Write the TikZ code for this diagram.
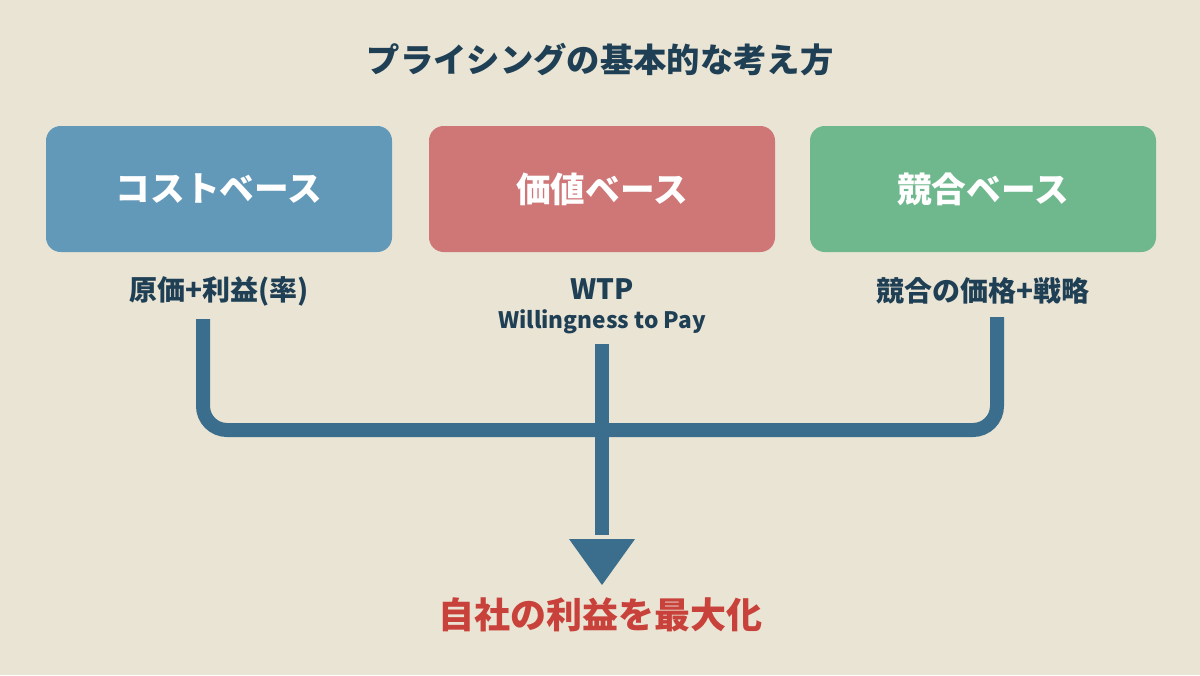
\documentclass[tikz,border=0pt]{standalone}
\usepackage{fontspec}
\setmainfont{Noto Sans CJK JP}
\usetikzlibrary{calc}
\definecolor{bg}{HTML}{EAE4D4}
\definecolor{ink}{HTML}{1F3F55}
\definecolor{bluebox}{HTML}{6399B8}
\definecolor{redbox}{HTML}{CF7677}
\definecolor{greenbox}{HTML}{6FB88D}
\definecolor{flow}{HTML}{3B6E8C}
\definecolor{goal}{HTML}{C8413A}
\begin{document}
\begin{tikzpicture}[x=0.75pt,y=-0.75pt,
  card/.style={rounded corners=11pt,minimum width=259.5pt,minimum height=94.5pt,inner sep=0pt,text=white,font=\fontsize{26}{30}\selectfont\bfseries},
  lab/.style={text=ink,font=\fontsize{21}{25}\selectfont\bfseries},
  pipe/.style={draw=flow,line width=10.5pt,rounded corners=18pt}]
\fill[bg] (0,0) rectangle (1200,675);
\useasboundingbox (0,0) rectangle (1200,675);
\node[text=ink,font=\fontsize{25}{30}\selectfont\bfseries] (title) at (600,60) {プライシングの基本的な考え方};
\node[card,fill=bluebox] (b1) at (219,189) {コストベース};
\node[card,fill=redbox] (b2) at (602,189) {価値ベース};
\node[card,fill=greenbox] (b3) at (983,189) {競合ベース};
\node[lab] (l1) at (219,291) {原価+利益(率)};
\node[lab] (l2) at (602,289) {WTP};
\node[text=ink,font=\fontsize{17}{20}\selectfont\bfseries] (l2b) at (602,322) {Willingness to Pay};
\node[lab] (l3) at (983,291) {競合の価格+戦略};
\coordinate (s1) at (203,319);
\coordinate (s2) at (602,344);
\coordinate (s3) at (997,317);
\coordinate (j) at (602,430);
\coordinate (tip) at (602,585);
\draw[pipe] (s1) |- (j) -| (s3);
\draw[draw=flow,line width=10.5pt] (s2) -- ($(tip)+(0,-50)$);
\fill[flow] ($(tip)+(-33,-46)$) -- ($(tip)+(33,-46)$) -- (tip) -- cycle;
\node[text=goal,font=\fontsize{27}{32}\selectfont\bfseries] (g) at (600,615) {自社の利益を最大化};
\end{tikzpicture}
\end{document}
